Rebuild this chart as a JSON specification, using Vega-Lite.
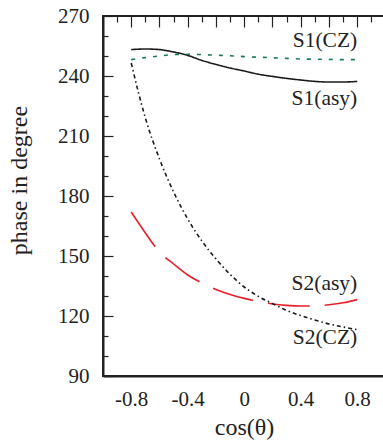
{
  "$schema": "https://vega.github.io/schema/vega-lite/v6.json",
  "autosize": "none",
  "padding": {"left": 103, "top": 16, "right": 0, "bottom": 68},
  "width": 282,
  "height": 360,
  "background": "white",
  "config": {
    "view": {"stroke": "#222", "strokeWidth": 2},
    "font": "Liberation Serif"
  },
  "datasets": {
    "curves": [
      {"series": "S1(asy)", "x": -0.8, "y": 253.2},
      {"series": "S1(asy)", "x": -0.7, "y": 253.5},
      {"series": "S1(asy)", "x": -0.6, "y": 253.2},
      {"series": "S1(asy)", "x": -0.5, "y": 252.0},
      {"series": "S1(asy)", "x": -0.4, "y": 250.3},
      {"series": "S1(asy)", "x": -0.3, "y": 247.8},
      {"series": "S1(asy)", "x": -0.2, "y": 245.8},
      {"series": "S1(asy)", "x": -0.1, "y": 244.0},
      {"series": "S1(asy)", "x": 0.0, "y": 242.5},
      {"series": "S1(asy)", "x": 0.1, "y": 240.9},
      {"series": "S1(asy)", "x": 0.2, "y": 239.8},
      {"series": "S1(asy)", "x": 0.3, "y": 238.8},
      {"series": "S1(asy)", "x": 0.4, "y": 238.0},
      {"series": "S1(asy)", "x": 0.5, "y": 237.3},
      {"series": "S1(asy)", "x": 0.6, "y": 237.0},
      {"series": "S1(asy)", "x": 0.7, "y": 237.0},
      {"series": "S1(asy)", "x": 0.8, "y": 237.3},
      {"series": "S1(CZ)", "x": -0.8, "y": 248.2},
      {"series": "S1(CZ)", "x": -0.7, "y": 249.2},
      {"series": "S1(CZ)", "x": -0.6, "y": 250.0},
      {"series": "S1(CZ)", "x": -0.5, "y": 250.7},
      {"series": "S1(CZ)", "x": -0.4, "y": 250.9},
      {"series": "S1(CZ)", "x": -0.3, "y": 250.7},
      {"series": "S1(CZ)", "x": -0.2, "y": 250.4},
      {"series": "S1(CZ)", "x": -0.1, "y": 250.1},
      {"series": "S1(CZ)", "x": 0.0, "y": 249.7},
      {"series": "S1(CZ)", "x": 0.1, "y": 249.4},
      {"series": "S1(CZ)", "x": 0.2, "y": 249.1},
      {"series": "S1(CZ)", "x": 0.3, "y": 248.8},
      {"series": "S1(CZ)", "x": 0.4, "y": 248.5},
      {"series": "S1(CZ)", "x": 0.5, "y": 248.4},
      {"series": "S1(CZ)", "x": 0.6, "y": 248.3},
      {"series": "S1(CZ)", "x": 0.7, "y": 248.2},
      {"series": "S1(CZ)", "x": 0.8, "y": 248.2},
      {"series": "S2(asy)", "x": -0.8, "y": 172.0},
      {"series": "S2(asy)", "x": -0.7, "y": 161.5},
      {"series": "S2(asy)", "x": -0.6, "y": 152.0},
      {"series": "S2(asy)", "x": -0.5, "y": 146.0},
      {"series": "S2(asy)", "x": -0.4, "y": 140.5},
      {"series": "S2(asy)", "x": -0.3, "y": 136.5},
      {"series": "S2(asy)", "x": -0.2, "y": 133.3},
      {"series": "S2(asy)", "x": -0.1, "y": 130.8},
      {"series": "S2(asy)", "x": 0.0, "y": 128.8},
      {"series": "S2(asy)", "x": 0.1, "y": 127.2},
      {"series": "S2(asy)", "x": 0.2, "y": 126.0},
      {"series": "S2(asy)", "x": 0.3, "y": 125.3},
      {"series": "S2(asy)", "x": 0.4, "y": 125.0},
      {"series": "S2(asy)", "x": 0.5, "y": 125.0},
      {"series": "S2(asy)", "x": 0.6, "y": 125.6},
      {"series": "S2(asy)", "x": 0.7, "y": 126.6},
      {"series": "S2(asy)", "x": 0.8, "y": 128.2},
      {"series": "S2(CZ)", "x": -0.8, "y": 246.5},
      {"series": "S2(CZ)", "x": -0.75, "y": 232.0},
      {"series": "S2(CZ)", "x": -0.7, "y": 219.0},
      {"series": "S2(CZ)", "x": -0.6, "y": 198.5},
      {"series": "S2(CZ)", "x": -0.5, "y": 182.0},
      {"series": "S2(CZ)", "x": -0.4, "y": 168.5},
      {"series": "S2(CZ)", "x": -0.3, "y": 157.5},
      {"series": "S2(CZ)", "x": -0.2, "y": 148.5},
      {"series": "S2(CZ)", "x": -0.1, "y": 140.8},
      {"series": "S2(CZ)", "x": 0.0, "y": 134.5},
      {"series": "S2(CZ)", "x": 0.1, "y": 129.8},
      {"series": "S2(CZ)", "x": 0.2, "y": 126.2},
      {"series": "S2(CZ)", "x": 0.3, "y": 122.8},
      {"series": "S2(CZ)", "x": 0.4, "y": 120.2},
      {"series": "S2(CZ)", "x": 0.5, "y": 118.0},
      {"series": "S2(CZ)", "x": 0.6, "y": 116.0},
      {"series": "S2(CZ)", "x": 0.7, "y": 114.5},
      {"series": "S2(CZ)", "x": 0.8, "y": 113.2}
    ],
    "labels": [
      {"text": "S1(CZ)", "x": 0.8, "y": 257.6},
      {"text": "S1(asy)", "x": 0.8, "y": 228.3},
      {"text": "S2(asy)", "x": 0.8, "y": 135.8},
      {"text": "S2(CZ)", "x": 0.8, "y": 109.1}
    ]
  },
  "resolve": {"axis": {"x": "independent", "y": "independent"}},
  "layer": [
    {
      "data": {"name": "curves"},
      "mark": {"type": "line", "interpolate": "monotone", "strokeWidth": 1.6, "clip": true},
      "encoding": {
        "x": {
          "field": "x", "type": "quantitative",
          "scale": {"domain": [-1, 0.9965], "nice": false, "zero": false},
          "axis": {
            "orient": "bottom",
            "title": "cos(θ)",
            "titleFont": "Liberation Serif", "titleFontSize": 24, "titleFontWeight": "normal", "titleColor": "#222", "titlePadding": 6,
            "values": [-0.8, -0.6, -0.4, -0.2, 0, 0.2, 0.4, 0.6, 0.8],
            "ticks": false, "tickSize": 0,
            "grid": true, "gridDash": [11, 2000], "gridColor": "#222", "gridWidth": 1.2, "gridOpacity": 1,
            "labelOverlap": false,
            "labelExpr": "round(datum.value*10) % 4 == 0 ? (datum.value == 0 ? '0' : (datum.value < 0 ? '-' : '') + format(abs(datum.value), '.1f')) : ''",
            "labelFont": "Liberation Serif", "labelFontSize": 21, "labelColor": "#222", "labelPadding": 12,
            "domainColor": "#222", "domainWidth": 2
          }
        },
        "y": {
          "field": "y", "type": "quantitative",
          "scale": {"domain": [90, 270], "nice": false, "zero": false},
          "axis": {
            "orient": "left",
            "title": "phase in degree",
            "titleFont": "Liberation Serif", "titleFontSize": 24, "titleFontWeight": "normal", "titleColor": "#222", "titlePadding": 26,
            "titleY": 164,
            "values": [90, 120, 150, 180, 210, 240, 270],
            "ticks": false, "tickSize": 0,
            "grid": true, "gridDash": [10, 2000], "gridColor": "#222", "gridWidth": 1.2, "gridOpacity": 1,
            "labelOverlap": false,
            "labelFont": "Liberation Serif", "labelFontSize": 21, "labelColor": "#222", "labelPadding": 14,
            "domainColor": "#222", "domainWidth": 2
          }
        },
        "color": {
          "field": "series", "type": "nominal",
          "scale": {"domain": ["S1(asy)", "S1(CZ)", "S2(asy)", "S2(CZ)"], "range": ["#1a1a1a", "#1b7a55", "#e8202a", "#1a1a1a"]},
          "legend": null
        },
        "strokeDash": {
          "field": "series", "type": "nominal",
          "scale": {"domain": ["S1(asy)", "S1(CZ)", "S2(asy)", "S2(CZ)"], "range": [[1, 0], [4, 7], [42, 15], [4, 3, 1.5, 3]]},
          "legend": null
        }
      }
    },
    {
      "data": {"name": "labels"},
      "mark": {"type": "text", "align": "right", "baseline": "middle", "font": "Liberation Serif", "fontSize": 21.5, "color": "#222"},
      "encoding": {
        "x": {
          "field": "x", "type": "quantitative",
          "axis": {
            "orient": "bottom", "title": null, "labels": false, "domain": false, "ticks": false,
            "values": [-0.9, -0.7, -0.5, -0.3, -0.1, 0.1, 0.3, 0.5, 0.7, 0.9],
            "grid": true, "gridDash": [6, 2000], "gridColor": "#222", "gridWidth": 1.2, "gridOpacity": 1
          }
        },
        "y": {
          "field": "y", "type": "quantitative",
          "axis": {
            "orient": "left", "title": null, "labels": false, "domain": false, "ticks": false,
            "values": [100, 110, 130, 140, 160, 170, 190, 200, 220, 230, 250, 260],
            "grid": true, "gridDash": [5, 2000], "gridColor": "#222", "gridWidth": 1.2, "gridOpacity": 1
          }
        },
        "text": {"field": "text"}
      }
    }
  ]
}
